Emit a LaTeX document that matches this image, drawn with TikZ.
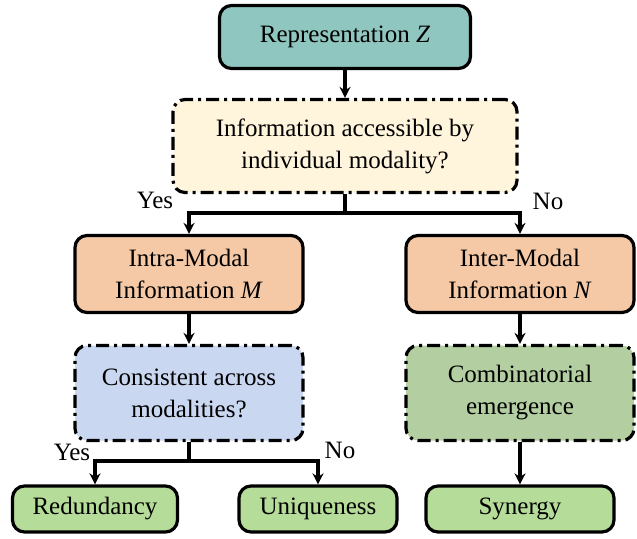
\documentclass[tikz,border=0pt]{standalone}
\usepackage{fontspec}
\setmainfont{Liberation Serif}
\usetikzlibrary{arrows.meta}
\definecolor{teal1}{HTML}{8FC6BF}
\definecolor{cream}{HTML}{FFF5DC}
\definecolor{peach}{HTML}{F5C9A6}
\definecolor{lblue}{HTML}{CAD7F0}
\definecolor{sage}{HTML}{B3CFA1}
\definecolor{lgreen}{HTML}{B5DC98}
\begin{document}
\begin{tikzpicture}[x=1pt,y=-1pt,
  box/.style={draw=black, line width=3.2pt, rounded corners=12pt, inner sep=0pt, align=center, font=\fontsize{25}{32}\selectfont},
  dbox/.style={box, dash pattern=on 13pt off 5pt on 3pt off 5pt},
  conn/.style={line width=3.2pt, draw=black},
  arr/.style={conn, -{Stealth[length=11pt,width=11pt]}},
  lbl/.style={font=\fontsize{25}{30}\selectfont, inner sep=0pt}]
\useasboundingbox (0,0) rectangle (637,538);
\node[box, fill=teal1, minimum width=251pt, minimum height=63pt] (rep) at (345,37) {Representation \textit{Z}};
\node[dbox, fill=cream, minimum width=344pt, minimum height=93pt] (q1) at (345,146) {Information accessible by\\individual modality?};
\node[box, fill=peach, minimum width=228pt, minimum height=77pt] (intra) at (189,274) {Intra-Modal\\Information \textit{M}};
\node[box, fill=peach, minimum width=228pt, minimum height=77pt] (inter) at (520,274) {Inter-Modal\\Information \textit{N}};
\node[dbox, fill=lblue, minimum width=228pt, minimum height=95pt] (q2) at (189,393) {Consistent across\\modalities?};
\node[dbox, fill=sage, minimum width=228pt, minimum height=95pt] (comb) at (520,393) {Combinatorial\\emergence};
\node[box, fill=lgreen, minimum width=165pt, minimum height=46pt] (red) at (95,509) {Redundancy};
\node[box, fill=lgreen, minimum width=158pt, minimum height=46pt] (uni) at (318,509) {Uniqueness};
\node[box, fill=lgreen, minimum width=188pt, minimum height=46pt] (syn) at (520,509) {Synergy};
\coordinate (j1) at (345,213);
\coordinate (j2) at (189,461);
\draw[arr] (rep) -- (q1);
\draw[conn] (q1) -- (j1);
\draw[arr] (j1) -| (intra);
\draw[arr] (j1) -| (inter);
\draw[arr] (intra) -- (q2);
\draw[arr] (inter) -- (comb);
\draw[conn] (q2) -- (j2);
\draw[arr] (j2) -| (red);
\draw[arr] (j2) -| (uni);
\draw[arr] (comb) -- (syn);
\node[lbl] (yes1) at (155,200) {Yes};
\node[lbl] (no1) at (548,201) {No};
\node[lbl] (yes2) at (72,452) {Yes};
\node[lbl] (no2) at (340,450) {No};
\end{tikzpicture}
\end{document}
